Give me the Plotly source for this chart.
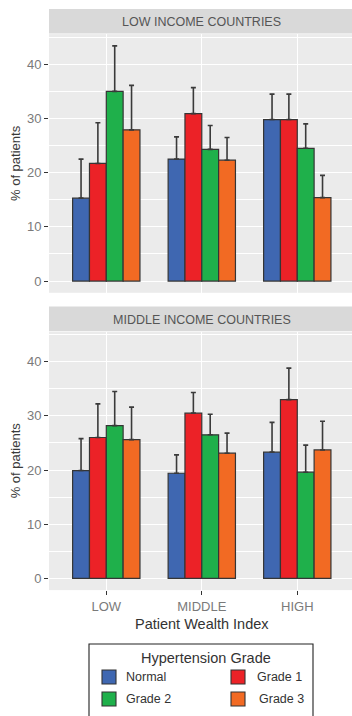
import plotly.graph_objects as go

# Wealth index categories and hypertension grades
wealth = ["LOW", "MIDDLE", "HIGH"]
grades = ["Normal", "Grade 1", "Grade 2", "Grade 3"]
grade_colors = ["#3F67B1", "#EC2227", "#1FB04B", "#F26A23"]

# Low income countries: % of patients per grade, and upper whisker ends
low_normal = [15.3, 22.5, 29.8]
low_grade1 = [21.7, 30.9, 29.8]
low_grade2 = [35.0, 24.3, 24.5]
low_grade3 = [27.9, 22.3, 15.4]
low_normal_hi = [22.5, 26.6, 34.5]
low_grade1_hi = [29.2, 35.7, 34.5]
low_grade2_hi = [43.4, 28.7, 29.0]
low_grade3_hi = [36.1, 26.5, 19.5]

# Middle income countries
mid_normal = [19.9, 19.4, 23.3]
mid_grade1 = [26.0, 30.5, 33.0]
mid_grade2 = [28.2, 26.5, 19.6]
mid_grade3 = [25.6, 23.1, 23.7]
mid_normal_hi = [25.8, 22.8, 28.8]
mid_grade1_hi = [32.2, 34.3, 38.8]
mid_grade2_hi = [34.5, 30.3, 24.6]
mid_grade3_hi = [31.6, 26.8, 29.0]

panels = [
    ("LOW INCOME COUNTRIES", "x", "y",
     [low_normal, low_grade1, low_grade2, low_grade3],
     [low_normal_hi, low_grade1_hi, low_grade2_hi, low_grade3_hi]),
    ("MIDDLE INCOME COUNTRIES", "x2", "y2",
     [mid_normal, mid_grade1, mid_grade2, mid_grade3],
     [mid_normal_hi, mid_grade1_hi, mid_grade2_hi, mid_grade3_hi]),
]

W, H = 352, 716
ML = 49
FONT = "Liberation Sans, Arial, sans-serif"


def py(px):
    """pixel row from top -> paper y"""
    return 1 - px / H


def pxx(px):
    """pixel column -> paper x (plot area starts at left margin)"""
    return (px - ML) / (W - ML)


fig = go.Figure()
for title, xa, ya, vals, his in panels:
    for g, col, v, hi in zip(grades, grade_colors, vals, his):
        fig.add_trace(go.Bar(
            x=wealth, y=v, name=g, xaxis=xa, yaxis=ya,
            marker=dict(color=col, line=dict(color="#353535", width=1.2)),
            error_y=dict(type="data", symmetric=False,
                         array=[h - m for h, m in zip(hi, v)],
                         arrayminus=[0] * len(v),
                         color="#3a3a3a", thickness=1.6, width=2.5),
            showlegend=False, hoverinfo="skip",
        ))

yrange = [-2.17, 45.57]
top_dom = [py(292.8), py(34.1)]
bot_dom = [py(590.1), py(331.5)]
xrange_ = [-0.6, 2.573]

common_y = dict(
    range=yrange, tickvals=[0, 10, 20, 30, 40], showgrid=True,
    gridcolor="white", gridwidth=1.1, zeroline=False,
    ticks="outside", ticklen=4, tickcolor="#333333", tickwidth=1.1,
    tickfont=dict(family=FONT, size=13, color="#7A7A7A"),
    minor=dict(dtick=5, tick0=0, showgrid=True, gridcolor="white",
               gridwidth=0.5, ticks=""),
    title=dict(text="% of patients", standoff=3,
               font=dict(family=FONT, size=13, color="#3A3A3A")),
    showline=False, fixedrange=True,
)
common_x = dict(
    type="category", categoryorder="array", categoryarray=wealth,
    range=xrange_, domain=[0, 1], showgrid=True, gridcolor="white",
    gridwidth=1.1, zeroline=False, showline=False, fixedrange=True,
)

fig.update_layout(
    width=W, height=H,
    margin=dict(l=ML, r=0, t=0, b=0, autoexpand=False),
    paper_bgcolor="white", plot_bgcolor="#EBEBEB",
    barmode="group", bargap=0.295, bargroupgap=0,
    font=dict(family=FONT, color="#333333"),
    xaxis=dict(common_x, anchor="y", showticklabels=False, ticks=""),
    yaxis=dict(common_y, domain=top_dom, anchor="x"),
    xaxis2=dict(common_x, anchor="y2", showticklabels=True,
                ticks="outside", ticklen=4, tickcolor="#333333",
                tickwidth=1.1,
                tickfont=dict(family=FONT, size=13, color="#7A7A7A")),
    yaxis2=dict(common_y, domain=bot_dom, anchor="x2"),
    showlegend=False,
)

shapes = []
annotations = []

# facet strips
for (title, *_), (top, bot, mid) in zip(panels, [(9, 33.5, 21.5), (306.5, 331, 320)]):
    shapes.append(dict(type="rect", xref="paper", yref="paper",
                       x0=0, x1=1, y0=py(bot), y1=py(top),
                       fillcolor="#D9D9D9", line=dict(width=0), layer="below"))
    annotations.append(dict(text=title, xref="paper", yref="paper",
                            x=pxx(201.5), y=py(mid), showarrow=False,
                            xanchor="center", yanchor="middle",
                            font=dict(family=FONT, size=12.5, color="#555555")))

# x axis title
annotations.append(dict(text="Patient Wealth Index", xref="paper", yref="paper",
                        x=pxx(202), y=py(624), showarrow=False,
                        xanchor="center", yanchor="middle",
                        font=dict(family=FONT, size=14.5, color="#333333")))

# legend box
shapes.append(dict(type="rect", xref="paper", yref="paper",
                   x0=pxx(89), x1=pxx(313), y0=py(722), y1=py(644),
                   fillcolor="white", line=dict(color="#222222", width=1.1)))
annotations.append(dict(text="Hypertension Grade", xref="paper", yref="paper",
                        x=pxx(206), y=py(657.5), showarrow=False,
                        xanchor="center", yanchor="middle",
                        font=dict(family=FONT, size=14.5, color="#333333")))
legend_slots = [(102, 677, 123.5), (231, 677, 255), (102, 699, 123.5), (231, 699, 256.5)]
for g, col, (sx, sy, tx) in zip(grades, grade_colors, legend_slots):
    shapes.append(dict(type="rect", xref="paper", yref="paper",
                       x0=pxx(sx), x1=pxx(sx + 14), y0=py(sy + 7), y1=py(sy - 7),
                       fillcolor=col, line=dict(color="#333333", width=1.1)))
    annotations.append(dict(text=g, xref="paper", yref="paper",
                            x=pxx(tx), y=py(sy), showarrow=False,
                            xanchor="left", yanchor="middle",
                            font=dict(family=FONT, size=12.5, color="#333333")))

fig.update_layout(shapes=shapes, annotations=annotations)
fig.write_html("out.html")
